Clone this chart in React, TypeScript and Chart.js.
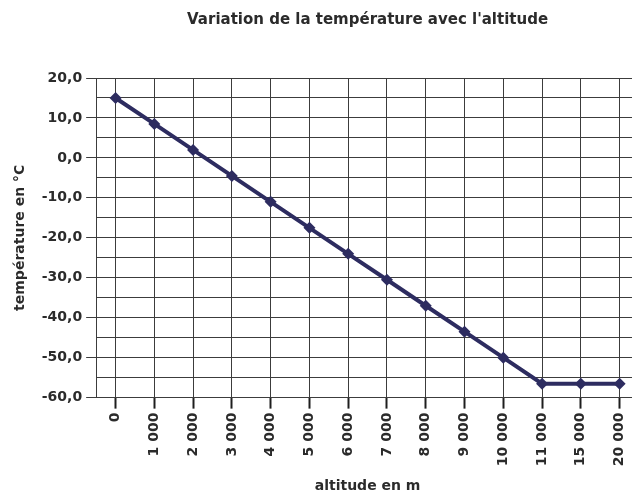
import React, { useEffect, useRef } from 'react';
import { Chart, registerables } from 'chart.js';

Chart.register(...registerables);

const chartTitle = "Variation de la température avec l'altitude";
const xAxisTitle = 'altitude en m';
const yAxisTitle = 'température en °C';

const altitudes = ['0', '1 000', '2 000', '3 000', '4 000', '5 000', '6 000', '7 000', '8 000', '9 000', '10 000', '11 000', '15 000', '20 000'];
const temperatures = [15, 8.5, 2, -4.5, -11, -17.5, -24, -30.5, -37, -43.5, -50, -56.5, -56.5, -56.5];

const yMin = -60;
const yMax = 20;
const yStep = 5;
const yLabelStep = 10;

const FONT = "'DejaVu Sans', Verdana, sans-serif";
const LINE_COLOR = '#2d2c60';
const GRID_COLOR = '#3c3c3c';
const TEXT_COLOR = '#2b2b2b';

const CANVAS_W = 645;
const CANVAS_H = 499;

export default function App() {
  const canvasRef = useRef<HTMLCanvasElement | null>(null);

  useEffect(() => {
    if (!canvasRef.current) return;
    const chart = new Chart(canvasRef.current, {
      type: 'line',
      data: {
        labels: altitudes,
        datasets: [
          {
            data: temperatures,
            borderColor: LINE_COLOR,
            backgroundColor: LINE_COLOR,
            borderWidth: 4,
            pointStyle: 'rectRot',
            pointRadius: 6,
            pointBorderWidth: 0,
            pointBackgroundColor: LINE_COLOR,
            tension: 0,
          },
        ],
      },
      options: {
        responsive: false,
        animation: false,
        layout: { padding: { left: 8, right: 2, top: 0, bottom: 0 } },
        plugins: {
          legend: { display: false },
          tooltip: { enabled: false },
          title: {
            display: true,
            text: chartTitle,
            fullSize: false,
            color: TEXT_COLOR,
            font: { family: FONT, size: 15, weight: 'bold' },
            padding: { top: 11, bottom: 49 },
          },
        },
        scales: {
          x: {
            type: 'category',
            offset: true,
            grid: {
              offset: false,
              color: GRID_COLOR,
              lineWidth: 1,
              drawTicks: true,
              tickLength: 11,
              tickColor: '#1e1e1e',
              tickWidth: 2,
            },
            border: { display: true, color: GRID_COLOR, width: 1 },
            ticks: {
              color: TEXT_COLOR,
              font: { family: FONT, size: 14, weight: 'bold' },
              minRotation: 90,
              maxRotation: 90,
              autoSkip: false,
              padding: 4,
            },
            title: {
              display: true,
              text: xAxisTitle,
              color: TEXT_COLOR,
              font: { family: FONT, size: 14, weight: 'bold' },
              padding: { top: 8, bottom: 4 },
            },
          },
          y: {
            type: 'linear',
            min: yMin,
            max: yMax,
            grid: {
              color: GRID_COLOR,
              lineWidth: 1,
              tickLength: 10,
              tickColor: (ctx: any) => (ctx.tick && ctx.tick.value % yLabelStep === 0 ? GRID_COLOR : 'rgba(0,0,0,0)'),
            },
            border: { display: true, color: GRID_COLOR, width: 1 },
            ticks: {
              stepSize: yStep,
              color: TEXT_COLOR,
              font: { family: FONT, size: 14, weight: 'bold' },
              padding: 4,
              callback: (v: any) => (Number(v) % yLabelStep === 0 ? Number(v).toFixed(1).replace('.', ',') : ''),
            },
            title: {
              display: true,
              text: yAxisTitle,
              color: TEXT_COLOR,
              font: { family: FONT, size: 14, weight: 'bold' },
              padding: { top: 4, bottom: 9 },
            },
          },
        },
      },
    });
    return () => chart.destroy();
  }, []);

  return (
    <div style={{ position: 'fixed', left: 0, top: 0, width: 632, height: 499, overflow: 'hidden', background: '#fff' }}>
      <canvas ref={canvasRef} width={CANVAS_W} height={CANVAS_H} style={{ width: CANVAS_W, height: CANVAS_H, display: 'block' }} />
    </div>
  );
}
